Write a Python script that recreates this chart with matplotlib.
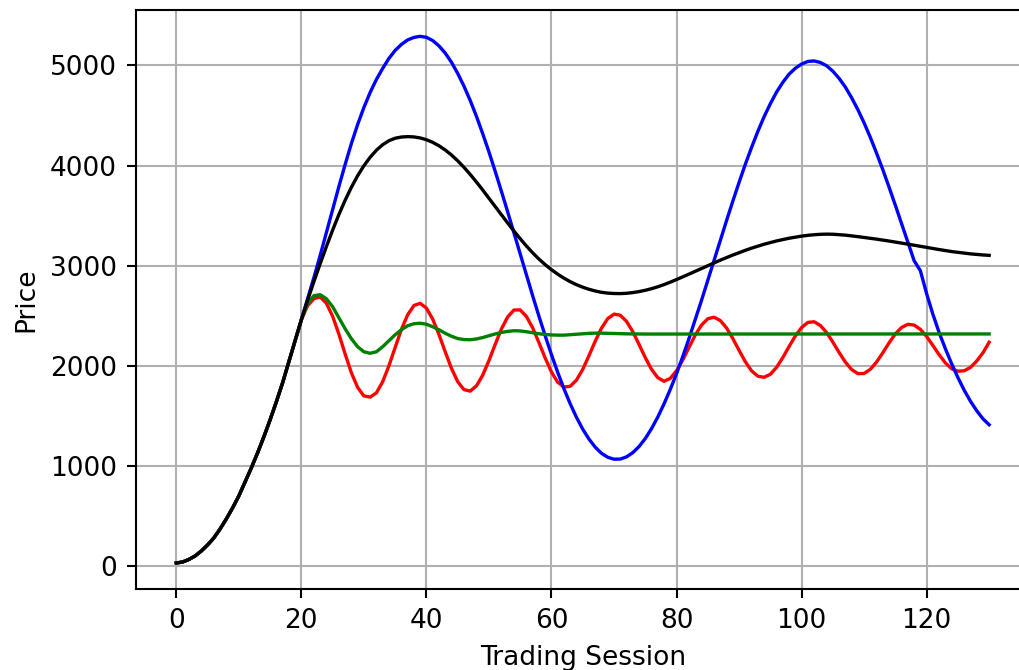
import matplotlib
matplotlib.use('Agg')
import matplotlib.pyplot as plt

# shared opening run, sessions 0..20 (all four lines sit on top of each other)
rise = [30, 40, 65, 100, 150, 210, 280, 370, 470, 580, 700,
        840, 980, 1130, 1290, 1460, 1640, 1830, 2040, 2250, 2460]

# sessions 21..130
blue_tail = [2670, 2880, 3100, 3330, 3560, 3790, 4010, 4220, 4410, 4580,
             4730, 4860, 4970, 5070, 5150, 5210, 5255, 5280, 5291, 5281,
             5249, 5196, 5124, 5033, 4921, 4794, 4651, 4492, 4319, 4137,
             3943, 3742, 3537, 3327, 3116, 2906, 2698, 2495, 2299, 2111,
             1934, 1770, 1620, 1485, 1367, 1268, 1187, 1126, 1086, 1067,
             1068, 1090, 1132, 1193, 1273, 1372, 1487, 1619, 1764, 1921,
             2092, 2273, 2462, 2654, 2853, 3052, 3252, 3450, 3644, 3831,
             4012, 4181, 4340, 4487, 4617, 4734, 4831, 4913, 4972, 5014,
             5040, 5045, 5030, 4997, 4943, 4871, 4784, 4678, 4559, 4426,
             4281, 4123, 3958, 3783, 3603, 3418, 3232, 3050, 2950, 2720,
             2515, 2332, 2170, 2020, 1883, 1757, 1647, 1552, 1471, 1411]

black_tail = [2655, 2840, 3018, 3190, 3355, 3510, 3653, 3783, 3898, 3998,
              4083, 4153, 4208, 4248, 4273, 4285, 4289, 4286, 4276, 4258,
              4232, 4198, 4156, 4106, 4048, 3983, 3912, 3836, 3756, 3674,
              3591, 3508, 3426, 3346, 3269, 3196, 3128, 3066, 3010, 2960,
              2915, 2875, 2840, 2810, 2785, 2764, 2747, 2734, 2726, 2722,
              2721, 2724, 2731, 2741, 2754, 2770, 2789, 2811, 2835, 2861,
              2888, 2916, 2944, 2972, 3000, 3028, 3055, 3081, 3106, 3130,
              3153, 3175, 3195, 3214, 3231, 3247, 3261, 3274, 3285, 3295,
              3303, 3309, 3313, 3315, 3314, 3310, 3305, 3298, 3290, 3282,
              3274, 3265, 3256, 3246, 3236, 3226, 3215, 3204, 3193, 3182,
              3171, 3161, 3151, 3141, 3133, 3125, 3118, 3112, 3107, 3103]

red_tail = [2600, 2670, 2688, 2625, 2495, 2317, 2118, 1930, 1784, 1699,
            1687, 1729, 1840, 1999, 2183, 2363, 2509, 2602, 2624, 2576,
            2467, 2314, 2141, 1975, 1842, 1762, 1747, 1799, 1906, 2052,
            2214, 2368, 2488, 2557, 2558, 2492, 2378, 2231, 2077, 1938,
            1836, 1788, 1795, 1857, 1964, 2101, 2246, 2376, 2471, 2516,
            2505, 2444, 2342, 2214, 2082, 1965, 1882, 1845, 1874, 1950,
            2058, 2184, 2307, 2407, 2470, 2485, 2452, 2378, 2273, 2155,
            2041, 1950, 1896, 1885, 1915, 1984, 2082, 2192, 2298, 2382,
            2433, 2440, 2403, 2332, 2237, 2133, 2037, 1963, 1922, 1923,
            1965, 2038, 2131, 2230, 2319, 2383, 2414, 2407, 2364, 2293,
            2203, 2111, 2029, 1970, 1946, 1950, 1983, 2047, 2129, 2235]

green_tail = [2620, 2700, 2710, 2670, 2590, 2480, 2370, 2270, 2190, 2140,
              2125, 2140, 2190, 2250, 2310, 2360, 2400, 2420, 2425, 2415,
              2390, 2360, 2325, 2295, 2272, 2262, 2260, 2268, 2282, 2300,
              2318, 2333, 2344, 2350, 2348, 2340, 2330, 2320, 2313, 2308,
              2306, 2306, 2310, 2315, 2320, 2324, 2326, 2326, 2324, 2322,
              2320, 2319, 2318, 2318, 2317, 2317, 2317, 2318, 2318, 2318,
              2318, 2318, 2318, 2318, 2318, 2318, 2318, 2318, 2318, 2318,
              2318, 2318, 2318, 2318, 2318, 2318, 2318, 2318, 2318, 2318,
              2318, 2318, 2318, 2318, 2318, 2318, 2318, 2318, 2318, 2318,
              2318, 2318, 2318, 2318, 2318, 2318, 2318, 2318, 2318, 2318,
              2318, 2318, 2318, 2318, 2318, 2318, 2318, 2318, 2318, 2318]

sessions = list(range(131))
blue = rise + blue_tail
black = rise + black_tail
red = rise + red_tail
green = rise + green_tail

plt.rcParams['font.family'] = 'DejaVu Sans'
plt.rcParams['font.size'] = 19

fig = plt.figure(figsize=(10.2, 6.7), dpi=100)
# right spine falls just outside the canvas, as in the reference crop
ax = fig.add_axes([0.1330, 0.1204, 0.8766, 0.8647])

lw = 2.4
ax.plot(sessions, red, color='r', lw=lw)
ax.plot(sessions, blue, color='b', lw=lw)
ax.plot(sessions, green, color='g', lw=lw)
ax.plot(sessions, black, color='k', lw=lw)

ax.set_xticks([0, 20, 40, 60, 80, 100, 120])
ax.set_yticks([0, 1000, 2000, 3000, 4000, 5000])
ax.grid(True, color='#b0b0b0', lw=1.5)
ax.set_axisbelow(True)
for sp in ax.spines.values():
    sp.set_linewidth(1.5)
ax.tick_params(length=6.7, width=1.5, pad=6.7, labelsize=19)

ax.set_xlabel('Trading Session', fontsize=19, labelpad=7.7)
ax.set_ylabel('Price', fontsize=19, labelpad=7.7)

fig.savefig('out.png', dpi=100)
